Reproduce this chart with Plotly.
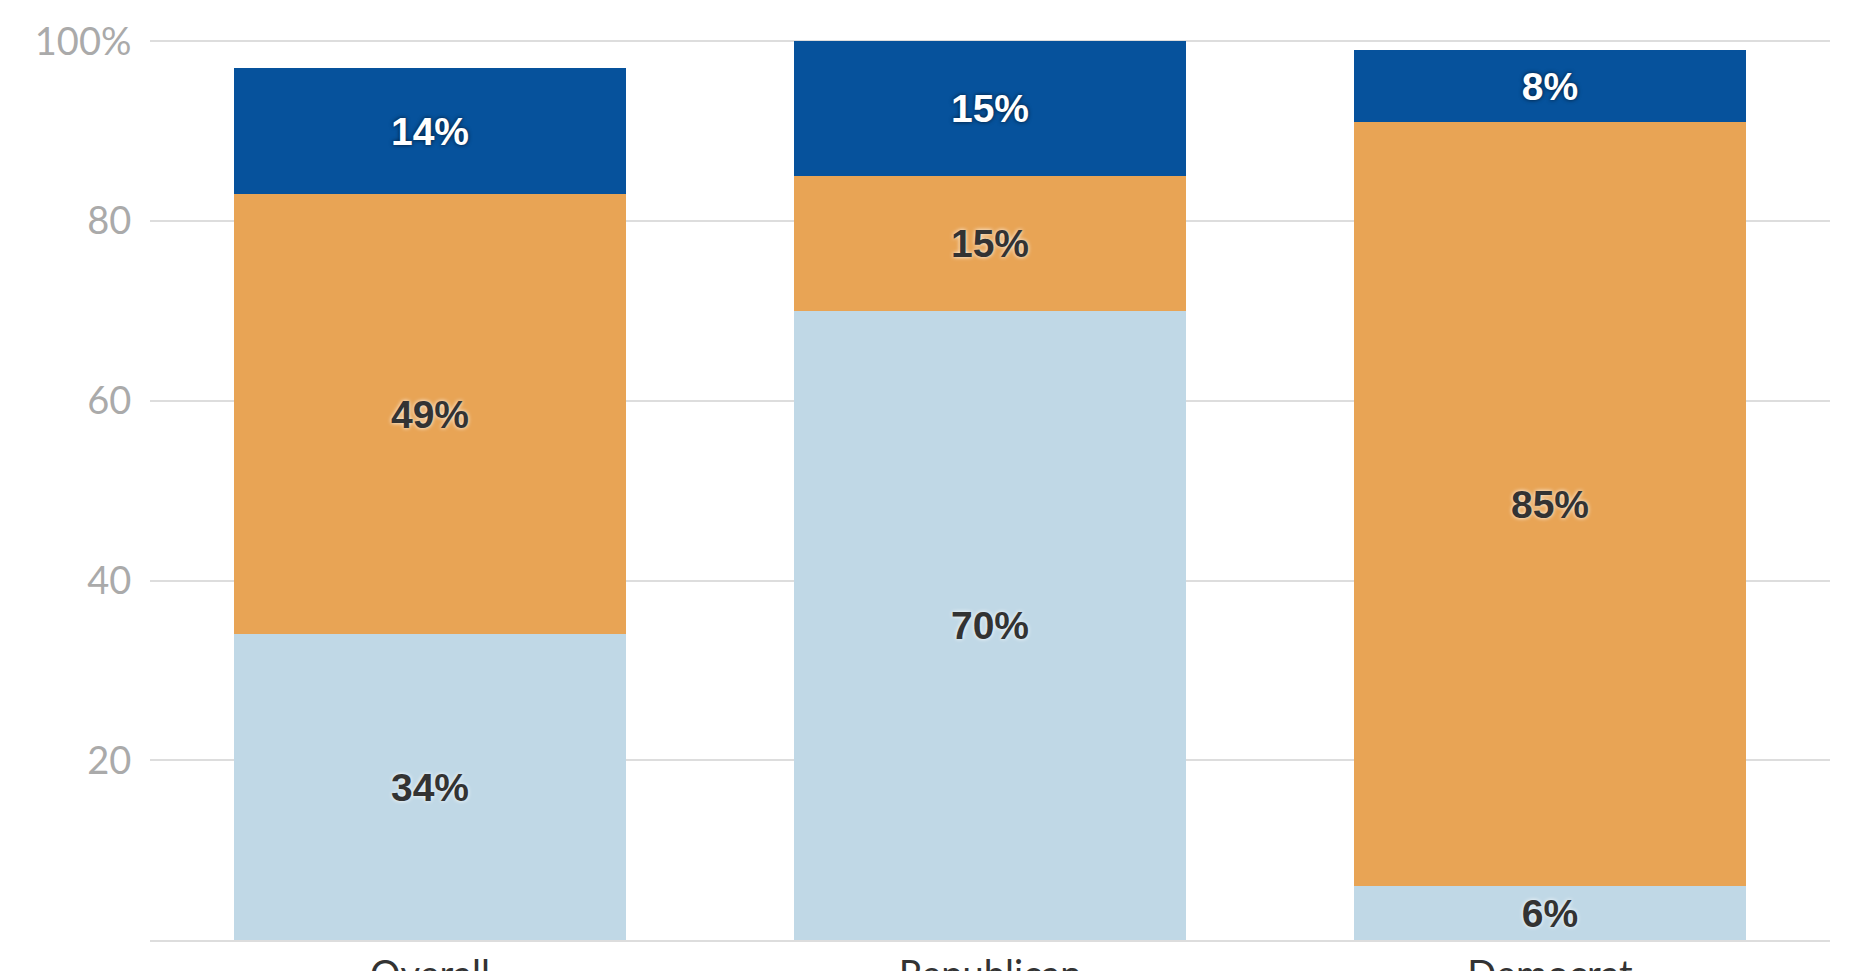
import plotly.graph_objects as go

categories = ["Overall", "Republican", "Democrat"]
series_names = ["Segment A", "Segment B", "Segment C"]
seg_a = [34, 70, 6]
seg_b = [49, 15, 85]
seg_c = [14, 15, 8]
colors = ["#c0d8e6", "#e8a455", "#06529c"]
text_colors = ["#333333", "#333333", "#ffffff"]
shadows = ["0px 0px 4px #ffffff", "0px 0px 4px #ffffff", "0px 0px 4px rgba(0,0,0,0.7)"]
y_tickvals = [20, 40, 60, 80, 100]
y_ticktext = ["20", "40", "60", "80", "100%"]

fig = go.Figure()
for name, vals, col, tcol, sh in zip(series_names, [seg_a, seg_b, seg_c], colors, text_colors, shadows):
    fig.add_trace(go.Bar(
        x=categories, y=vals, name=name,
        marker=dict(color=col, line=dict(width=0)),
        text=[f"{v}%" for v in vals],
        textposition="inside", insidetextanchor="middle", textangle=0,
        textfont=dict(family="Liberation Sans, Arial, sans-serif", size=39, color=tcol,
                      weight="bold", shadow=sh),
        hoverinfo="skip",
    ))

fig.update_layout(
    barmode="stack", bargap=0.3,
    width=1852, height=963,
    margin=dict(l=142, r=30, t=32, b=31, autoexpand=False),
    paper_bgcolor="white", plot_bgcolor="white",
    showlegend=False,
    uniformtext=dict(mode="show", minsize=10),
    xaxis=dict(
        automargin=False,
        showgrid=False, showline=True, linecolor="#dddddd", linewidth=2,
        ticks="outside", ticklen=0, tickcolor="rgba(0,0,0,0)",
        tickfont=dict(family="Lato, sans-serif", size=38, color="#333333"),
    ),
    yaxis=dict(
        automargin=False,
        range=[0, 100.15], tickvals=y_tickvals, ticktext=y_ticktext,
        showgrid=True, gridcolor="#dddddd", gridwidth=2,
        zeroline=False, showline=False,
        ticks="outside", ticklen=10, tickcolor="rgba(0,0,0,0)",
        tickfont=dict(family="Lato, sans-serif", size=38, color="#aaaaaa"),
    ),
)

fig.write_html("out.html")
